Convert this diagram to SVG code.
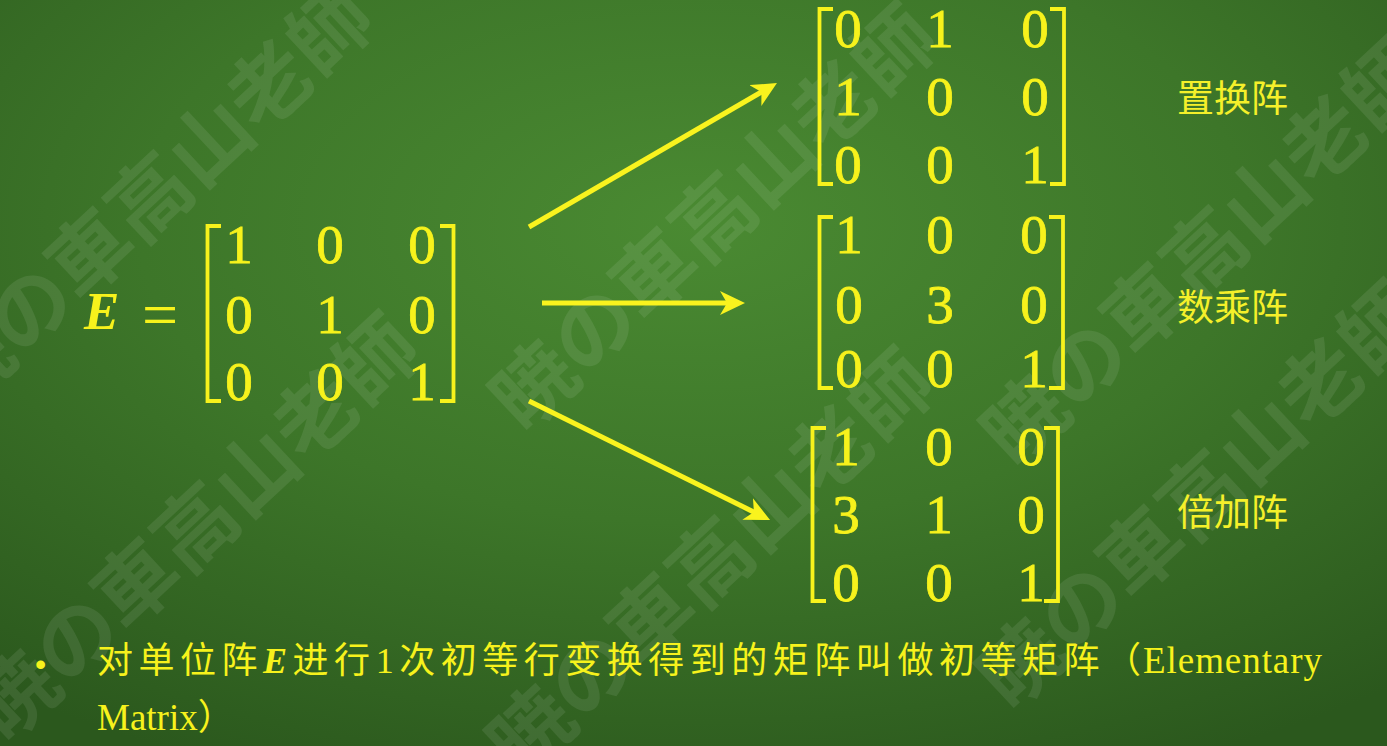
<svg xmlns="http://www.w3.org/2000/svg" width="1387" height="746" viewBox="0 0 1387 746">
<style>
.wm{font-family:"Noto Sans CJK JP","Noto Sans CJK SC",sans-serif;font-weight:700;font-size:82px;fill:#ffffff;fill-opacity:0.085}
.d{font-family:"Liberation Serif","Times New Roman",serif;font-size:55px;fill:#f7f21c;stroke:#f7f21c;stroke-width:0.8;text-anchor:middle}
.br{fill:none;stroke:#f7f21c;stroke-width:3.8}
.lbl{font-family:"Noto Sans CJK SC","Noto Sans CJK JP",sans-serif;font-size:37px;fill:#f5f02a}
.cj{font-family:"Noto Sans CJK SC","Noto Sans CJK JP",sans-serif;font-size:36px;fill:#f7f21c}
.lt{font-family:"Liberation Serif","Times New Roman",serif;font-size:37px;fill:#f7f21c}
.arr{stroke:#f9f31e;stroke-width:5;fill:none}
</style>
<defs>
<radialGradient id="bg" cx="0.5" cy="0.3" r="0.8">
<stop offset="0" stop-color="#4a8a32"/>
<stop offset="0.5" stop-color="#3d7629"/>
<stop offset="1" stop-color="#2b581d"/>
</radialGradient>
<marker id="ah" viewBox="0 0 25 24" refX="10" refY="12" markerWidth="25" markerHeight="24" markerUnits="userSpaceOnUse" orient="auto">
<path d="M0,0 L25,12 L0,24 L7,12 Z" fill="#f9f31e"/>
</marker>
</defs>
<rect width="1387" height="746" fill="url(#bg)"/>
<g id="watermark">
<text class="wm" transform="translate(-40,415) rotate(-43)">暁の車高山老師</text>
<text class="wm" transform="translate(524,435) rotate(-43)">暁の車高山老師</text>
<text class="wm" transform="translate(1015,470) rotate(-43)">暁の車高山老師</text>
<text class="wm" transform="translate(6,745) rotate(-43)">暁の車高山老師</text>
<text class="wm" transform="translate(521,780) rotate(-43)">暁の車高山老師</text>
<text class="wm" transform="translate(1011,713) rotate(-43)">暁の車高山老師</text>
</g>
<g id="identity">
<text x="84" y="329" font-family="Liberation Serif,serif" font-weight="700" font-style="italic" font-size="53" fill="#f7f21c">E</text>
<text x="160" y="336" font-family="Liberation Serif,serif" font-size="64" fill="#f7f21c" text-anchor="middle">=</text>
<path class="br" d="M221,226 H207.5 V401 H221"/>
<path class="br" d="M440,226 H453.5 V401 H440"/>
<text class="d" x="239" y="263">1</text><text class="d" x="330" y="263">0</text><text class="d" x="422" y="263">0</text>
<text class="d" x="239" y="333">0</text><text class="d" x="330" y="333">1</text><text class="d" x="422" y="333">0</text>
<text class="d" x="239" y="400">0</text><text class="d" x="330" y="400">0</text><text class="d" x="422" y="400">1</text>
</g>
<g id="connectors">
<line class="arr" x1="529" y1="227" x2="764" y2="90.5" marker-end="url(#ah)"/>
<line class="arr" x1="542" y1="303" x2="730" y2="303" marker-end="url(#ah)"/>
<line class="arr" x1="529" y1="401" x2="756.6" y2="513.4" marker-end="url(#ah)"/>
</g>
<g id="permutation">
<path class="br" d="M833,9 H819.5 V184 H833"/>
<path class="br" d="M1050,9 H1064 V184 H1050"/>
<text class="d" x="848" y="47">0</text><text class="d" x="940" y="47">1</text><text class="d" x="1035" y="47">0</text>
<text class="d" x="848" y="115">1</text><text class="d" x="940" y="115">0</text><text class="d" x="1035" y="115">0</text>
<text class="d" x="848" y="183">0</text><text class="d" x="940" y="183">0</text><text class="d" x="1035" y="183">1</text>
<text class="lbl" x="1177" y="112">置换阵</text>
</g>
<g id="scaling">
<path class="br" d="M833,217 H819.5 V388 H833"/>
<path class="br" d="M1049,217 H1063 V388 H1049"/>
<text class="d" x="849" y="253">1</text><text class="d" x="940" y="253">0</text><text class="d" x="1034" y="253">0</text>
<text class="d" x="849" y="323">0</text><text class="d" x="940" y="323">3</text><text class="d" x="1034" y="323">0</text>
<text class="d" x="849" y="387">0</text><text class="d" x="940" y="387">0</text><text class="d" x="1034" y="387">1</text>
<text class="lbl" x="1177" y="321">数乘阵</text>
</g>
<g id="addition">
<path class="br" d="M826,428 H812.5 V601 H826"/>
<path class="br" d="M1044,428 H1058 V601 H1044"/>
<text class="d" x="846" y="465">1</text><text class="d" x="939" y="465">0</text><text class="d" x="1031" y="465">0</text>
<text class="d" x="846" y="533">3</text><text class="d" x="939" y="533">1</text><text class="d" x="1031" y="533">0</text>
<text class="d" x="846" y="601">0</text><text class="d" x="939" y="601">0</text><text class="d" x="1031" y="601">1</text>
<text class="lbl" x="1177" y="526">倍加阵</text>
</g>
<g id="definition">
<text x="35" y="675" font-family="Liberation Sans,sans-serif" font-size="32" fill="#f7f21c">•</text>
<text class="cj" x="97" y="673" textLength="1044" lengthAdjust="spacing">对单位阵<tspan font-family="Liberation Serif,serif" font-weight="700" font-style="italic">E</tspan>进行<tspan font-family="Liberation Serif,serif">1</tspan>次初等行变换得到的矩阵叫做初等矩阵（</text>
<text class="lt" x="1143" y="673" textLength="179" lengthAdjust="spacing">Elementary</text>
<text x="97" y="730" class="lt" font-size="36">Matrix<tspan class="cj">）</tspan></text>
</g>
</svg>
